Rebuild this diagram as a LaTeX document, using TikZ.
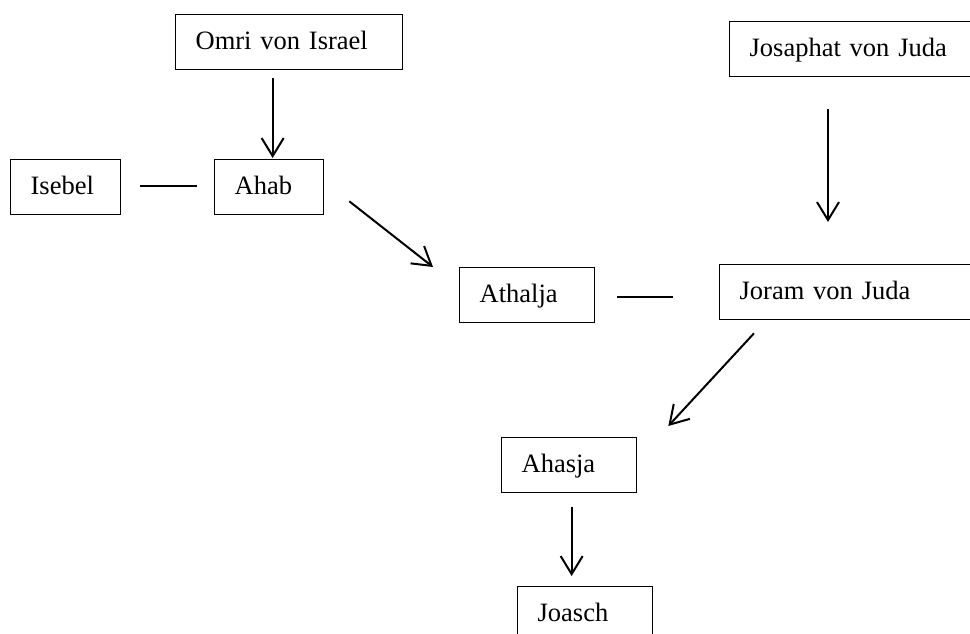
\documentclass[tikz,border=0pt]{standalone}
\usepackage{fontspec}
\setmainfont{Liberation Serif}
\usepackage{tikz}
\usetikzlibrary{arrows.meta}

\begin{document}
\begin{tikzpicture}[x=1pt,y=-1pt,
	person/.style={shape=rectangle,draw=black,line width=1.3pt,anchor=north west,
		inner xsep=20pt,inner ysep=0pt,align=left,minimum height=55pt,
		text height=20pt,text depth=4.4pt,
		font=\fontsize{26.5pt}{32pt}\selectfont},
	arr/.style={-{Straight Barb[length=18pt,width=22pt]},line width=2pt},
	tie/.style={-,line width=2pt}]

	\clip (0,0) rectangle (970,633);

	\node[person,text width=187pt] (omri)     at (175, 14)  {Omri von Israel};
	\node[person,text width=231pt] (josaphat) at (729, 21)  {Josaphat von Juda};
	\node[person,text width=70pt]  (isebel)   at (10, 159)  {Isebel};
	\node[person,text width=69pt]  (ahab)     at (214, 159) {Ahab};
	\node[person,text width=95pt]  (athalja)  at (459, 267) {Athalja};
	\node[person,text width=231pt] (joram)    at (719, 264) {Joram von Juda};
	\node[person,text width=95pt]  (ahasja)   at (501, 437) {Ahasja};
	\node[person,text width=95pt]  (joasch)   at (517, 586) {Joasch};

	\path[arr] ([shift={(-16.5,8)}]omri.south) edge ([shift={(3.5,-1)}]ahab.north);
	\path[tie] ([shift={(19,-1.5)}]isebel.east) edge ([shift={(-17,-1.5)}]ahab.west);
	\path[arr] ([shift={(25,-14)}]ahab.south east) edge ([shift={(-26,0)}]athalja.north west);
	\path[tie] ([shift={(22,1.5)}]athalja.east) edge ([shift={(-46,4.5)}]joram.west);
	\path[arr] ([shift={(99,32)}]josaphat.south west) edge ([shift={(109,-42)}]joram.north west);
	\path[arr] ([shift={(35,13)}]joram.south west) edge ([shift={(31,-11)}]ahasja.north east);
	\path[arr] ([shift={(2.5,14)}]ahasja.south) edge ([shift={(-13.5,-10)}]joasch.north);

\end{tikzpicture}
\end{document}
